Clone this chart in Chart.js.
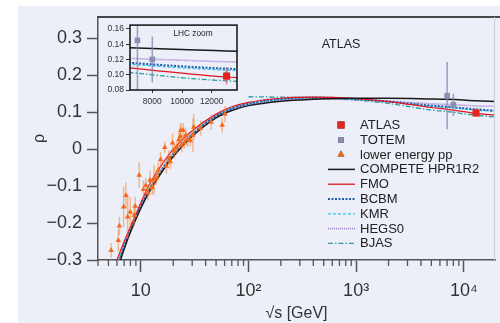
<!DOCTYPE html>
<html>
<head>
<meta charset="utf-8">
<script src="https://cdn.jsdelivr.net/npm/chart.js@4.4.1/dist/chart.umd.min.js"></script>
<style>
  html, body { margin: 0; padding: 0; background: #fff; }
  #wrap { position: relative; width: 500px; height: 323px; }
  #main { position: absolute; left: 0; top: 0; }
  #inset { position: absolute; left: 100px; top: 18px; }
</style>
</head>
<body>
<div id="wrap">
  <canvas id="main" width="500" height="323"></canvas>
  <canvas id="inset" width="145" height="92"></canvas>
</div>
<script>
// rho parameter vs sqrt(s): model curves + measurements

// model curves, sampled on one energy grid (GeV)
const energy = [6, 7, 8, 10, 12, 15, 20, 30, 50, 70, 100, 200, 400, 1000, 2000, 5000, 7000, 10000, 13000, 20000];
const competeRho = [-0.33, -0.27, -0.225, -0.16, -0.115, -0.07, -0.02, 0.035, 0.085, 0.105, 0.118, 0.130, 0.135, 0.138, 0.138, 0.136, 0.135, 0.133, 0.131, 0.129];
const fmoRho     = [-0.30, -0.25, -0.21, -0.145, -0.095, -0.05, 0.0, 0.05, 0.095, 0.115, 0.127, 0.138, 0.141, 0.137, 0.129, 0.113, 0.108, 0.102, 0.097, 0.092];
const bcbmRho    = [-0.32, -0.265, -0.22, -0.155, -0.11, -0.065, -0.015, 0.04, 0.09, 0.11, 0.123, 0.136, 0.140, 0.136, 0.129, 0.118, 0.115, 0.111, 0.108, 0.104];
const kmrRho     = [-0.315, -0.26, -0.218, -0.152, -0.107, -0.062, -0.012, 0.042, 0.09, 0.11, 0.123, 0.135, 0.139, 0.135, 0.128, 0.116, 0.113, 0.109, 0.106, 0.102];
const hegsRho    = [-0.31, -0.258, -0.215, -0.15, -0.105, -0.06, -0.01, 0.043, 0.09, 0.11, 0.122, 0.133, 0.136, 0.134, 0.130, 0.123, 0.121, 0.119, 0.117, 0.116];
const bjasRho    = [null, null, null, null, null, null, null, null, null, null, 0.142, 0.141, 0.139, 0.133, 0.124, 0.106, 0.102, 0.096, 0.092, 0.087];

// measurements
const atlasE = [13000];
const atlasRho = [0.098];
const atlasErr = [0.011];

const totemE = [7000, 8000, 13000];
const totemRho = [0.145, 0.12, 0.10];
const totemErr = [0.091, 0.03, 0.01];

const lowE   = [5.3, 6.18, 6.32, 6.92, 7.28, 7.54, 7.98, 8.67, 8.87, 9.65, 10.57, 11.1, 11.67, 12.17, 12.78, 13.25, 14.0, 14.5, 15.26, 16.7, 17.3, 18.2, 18.8, 19.7, 20.5, 21.6, 22.5, 23.3, 24.0, 25.4, 26.1, 27.2, 28.8, 30.5, 24.7, 31, 36, 45, 57, 60.4, 23.5];
const lowRho = [-0.274, -0.247, -0.208, -0.156, -0.125, -0.183, -0.170, -0.179, -0.154, -0.070, -0.109, -0.098, -0.118, -0.084, -0.104, -0.082, -0.077, -0.057, -0.028, 0.005, -0.046, -0.023, -0.034, 0.017, -0.005, 0.005, 0.026, 0.035, 0.011, 0.017, 0.038, 0.026, 0.023, 0.038, 0.051, 0.06, 0.057, 0.073, 0.065, 0.095, 0.051];
const lowErr = [0.02, 0.03, 0.025, 0.055, 0.035, 0.06, 0.04, 0.03, 0.025, 0.035, 0.025, 0.02, 0.02, 0.025, 0.02, 0.04, 0.02, 0.02, 0.02, 0.015, 0.02, 0.02, 0.02, 0.025, 0.02, 0.015, 0.02, 0.03, 0.02, 0.015, 0.02, 0.02, 0.015, 0.045, 0.02, 0.035, 0.02, 0.02, 0.02, 0.022, 0.02];

// axis ticks
const xMajorTicks = [10, 100, 1000, 10000];
const xMajorLabels = ['10', '10²', '10³', '10⁴'];
const xMinorTicks = [4, 5, 6, 7, 8, 9, 20, 30, 40, 50, 60, 70, 80, 90, 200, 300, 400, 500, 600, 700, 800, 900,
                     2000, 3000, 4000, 5000, 6000, 7000, 8000, 9000];
const yTicks = [-0.3, -0.2, -0.1, 0, 0.1, 0.2, 0.3];
const yTickLabels = ['−0.3', '−0.2', '−0.1', '0', '0.1', '0.2', '0.3'];
const insetXTicks = [8000, 10000, 12000];
const insetYTicks = [0.08, 0.10, 0.12, 0.14, 0.16];

const FONT = '"Liberation Sans", Arial, sans-serif';
Chart.defaults.font.family = FONT;
Chart.defaults.color = '#333';

const toPoints = (xs, ys) => xs.map((x, i) => ({ x: x, y: ys[i] }));

function modelDatasets() {
  const base = { type: 'line', pointRadius: 0, fill: false, cubicInterpolationMode: 'monotone', spanGaps: false };
  return [
    Object.assign({}, base, { label: 'COMPETE HPR1R2', data: toPoints(energy, competeRho), borderColor: '#1a1a1a', borderWidth: 1.5 }),
    Object.assign({}, base, { label: 'FMO', data: toPoints(energy, fmoRho), borderColor: '#e0161d', borderWidth: 1.2 }),
    Object.assign({}, base, { label: 'BCBM', data: toPoints(energy, bcbmRho), borderColor: '#1f5fae', borderWidth: 2, borderDash: [2, 1.5] }),
    Object.assign({}, base, { label: 'KMR', data: toPoints(energy, kmrRho), borderColor: '#2ec4e6', borderWidth: 1.3, borderDash: [3, 2] }),
    Object.assign({}, base, { label: 'HEGS0', data: toPoints(energy, hegsRho), borderColor: '#9b7fc4', borderWidth: 1.6, borderDash: [1, 1] }),
    Object.assign({}, base, { label: 'BJAS', data: toPoints(energy, bjasRho), borderColor: '#2a9d9f', borderWidth: 1.3, borderDash: [5, 2, 1.5, 2] })
  ];
}

function pointDatasets() {
  return [
    { type: 'line', label: 'ATLAS', data: toPoints(atlasE, atlasRho), errors: atlasErr,
      errorColor: 'rgba(235, 90, 90, 0.6)', showLine: false,
      pointStyle: 'rect', pointRadius: 5, backgroundColor: '#e52421', borderColor: '#e52421', borderWidth: 0 },
    { type: 'line', label: 'TOTEM', data: toPoints(totemE, totemRho), errors: totemErr,
      errorColor: 'rgba(125, 130, 165, 0.75)', showLine: false,
      pointStyle: 'rect', pointRadius: 4, backgroundColor: '#8a90b0', borderColor: '#8a90b0', borderWidth: 0 }
  ];
}

// vertical error bars, drawn just before their own dataset
const errorBars = {
  id: 'errorBars',
  beforeDatasetDraw(chart, args) {
    const ds = chart.data.datasets[args.index];
    if (!ds.errors) return;
    const { ctx, chartArea: a, scales } = chart;
    ctx.save();
    ctx.beginPath();
    ctx.rect(a.left, a.top, a.right - a.left, a.bottom - a.top);
    ctx.clip();
    ctx.strokeStyle = ds.errorColor;
    ctx.lineWidth = 1.5;
    ds.data.forEach((p, i) => {
      const x = scales.x.getPixelForValue(p.x);
      ctx.beginPath();
      ctx.moveTo(x, scales.y.getPixelForValue(p.y - ds.errors[i]));
      ctx.lineTo(x, scales.y.getPixelForValue(p.y + ds.errors[i]));
      ctx.stroke();
    });
    ctx.restore();
  }
};

const mainDecor = {
  id: 'mainDecor',
  beforeDraw(chart) {
    const ctx = chart.ctx;
    ctx.save();
    ctx.fillStyle = '#eceef8';
    ctx.fillRect(18, 6, chart.width - 18, chart.height - 6);
    ctx.restore();
  },
  afterDraw(chart) {
    const { ctx, chartArea: a, scales } = chart;
    ctx.save();
    // frame
    ctx.strokeStyle = '#111';
    ctx.lineWidth = 1.5;
    ctx.beginPath(); ctx.moveTo(a.left, a.top); ctx.lineTo(chart.width, a.top); ctx.stroke();
    ctx.strokeStyle = '#c9cbd6';
    ctx.lineWidth = 1;
    ctx.beginPath(); ctx.moveTo(a.right - 0.5, a.top); ctx.lineTo(a.right - 0.5, a.bottom); ctx.stroke();
    // minor x ticks
    ctx.strokeStyle = '#555';
    ctx.lineWidth = 1.3;
    xMinorTicks.forEach(v => {
      const x = scales.x.getPixelForValue(v);
      ctx.beginPath(); ctx.moveTo(x, a.bottom); ctx.lineTo(x, a.bottom + 6); ctx.stroke();
    });
    // experiment label
    ctx.fillStyle = '#222';
    ctx.font = '12.5px ' + FONT;
    ctx.textAlign = 'center';
    ctx.textBaseline = 'middle';
    ctx.fillText('ATLAS', 341, 45);
    // legend
    const lx = 328, top = 125, row = 14.8;
    ctx.font = '13px ' + FONT;
    ctx.textAlign = 'left';
    chart.data.datasets.forEach((ds, i) => {
      const y = top + i * row;
      if (ds.showLine === false) {
        Chart.helpers.drawPoint(ctx, { pointStyle: ds.pointStyle, radius: ds.pointStyle === 'triangle' ? 4 : ds.pointRadius, rotation: 0, borderWidth: 0 }, lx + 13, y);
        ctx.fillStyle = ds.backgroundColor;
        ctx.fill();
      } else {
        ctx.save();
        ctx.strokeStyle = ds.borderColor;
        ctx.lineWidth = Math.max(1.3, ds.borderWidth);
        ctx.setLineDash(ds.borderDash || []);
        ctx.beginPath(); ctx.moveTo(lx, y); ctx.lineTo(lx + 27, y); ctx.stroke();
        ctx.restore();
      }
      ctx.fillStyle = '#222';
      ctx.fillText(ds.label, lx + 32, y + 0.5);
    });
    ctx.restore();
  }
};

const mainDatasets = pointDatasets().concat([
  { type: 'line', label: 'lower energy pp', data: toPoints(lowE, lowRho), errors: lowErr,
    errorColor: 'rgba(243, 128, 45, 0.5)', showLine: false,
    pointStyle: 'triangle', pointRadius: 3.2, backgroundColor: '#f26b1d', borderColor: '#f26b1d', borderWidth: 0 }
]).concat(modelDatasets());

new Chart(document.getElementById('main'), {
  type: 'line',
  data: { datasets: mainDatasets },
  options: {
    responsive: false,
    animation: false,
    events: [],
    layout: { padding: { left: 18, top: 17, right: 1, bottom: 0 } },
    plugins: { legend: { display: false }, tooltip: { enabled: false } },
    scales: {
      x: {
        type: 'logarithmic', min: 4, max: 19500,
        afterBuildTicks: s => { s.ticks = xMajorTicks.map(v => ({ value: v, major: true })); },
        afterFit: s => { s.height = 63; },
        ticks: {
          autoSkip: false, maxRotation: 0, padding: 8,
          font: { size: 18 }, color: '#333',
          callback: v => { const i = xMajorTicks.indexOf(v); return i >= 0 ? xMajorLabels[i] : ''; }
        },
        grid: { drawOnChartArea: false, tickLength: 12, tickColor: '#555', tickWidth: 1.5 },
        border: { color: '#555', width: 1.5 },
        title: { display: true, text: '√s [GeV]', font: { size: 16 }, color: '#333', padding: { top: 2, bottom: 0 } }
      },
      y: {
        min: -0.3, max: 0.358,
        afterBuildTicks: s => { s.ticks = yTicks.map(v => ({ value: v })); },
        afterFit: s => { s.width = 80; },
        ticks: {
          padding: 5, font: { size: 18 }, color: '#333',
          callback: (v, i) => yTickLabels[i]
        },
        grid: { drawOnChartArea: false, tickLength: 11, tickColor: '#555', tickWidth: 1.5 },
        border: { color: '#555', width: 1.5 },
        title: { display: true, text: 'ρ', font: { size: 16 }, color: '#333', padding: { top: 12, bottom: 0 } }
      }
    }
  },
  plugins: [mainDecor, errorBars]
});

// LHC zoom inset
const insetDecor = {
  id: 'insetDecor',
  beforeDraw(chart) {
    const { ctx, chartArea: a } = chart;
    ctx.save();
    ctx.fillStyle = '#eceef8';
    ctx.fillRect(a.left, a.top, a.right - a.left, a.bottom - a.top);
    ctx.restore();
  },
  afterDraw(chart) {
    const { ctx, chartArea: a } = chart;
    ctx.save();
    ctx.strokeStyle = '#111';
    ctx.lineWidth = 1.5;
    ctx.strokeRect(a.left, a.top, a.right - a.left, a.bottom - a.top);
    ctx.fillStyle = '#222';
    ctx.font = '8.3px ' + FONT;
    ctx.textAlign = 'center';
    ctx.textBaseline = 'middle';
    ctx.fillText('LHC zoom', 93, 16);
    ctx.restore();
  }
};

new Chart(document.getElementById('inset'), {
  type: 'line',
  data: { datasets: pointDatasets().concat(modelDatasets()) },
  options: {
    responsive: false,
    animation: false,
    events: [],
    layout: { padding: { left: 0, top: 3, right: 8, bottom: 0 } },
    plugins: { legend: { display: false }, tooltip: { enabled: false } },
    scales: {
      x: {
        type: 'linear', min: 6500, max: 13700,
        afterBuildTicks: s => { s.ticks = insetXTicks.map(v => ({ value: v })); },
        afterFit: s => { s.height = 20; },
        ticks: { autoSkip: false, maxRotation: 0, padding: 4, font: { size: 8.5 }, color: '#333',
                 callback: v => String(v) },
        grid: { drawOnChartArea: false, tickLength: 3, tickColor: '#333', tickWidth: 1 },
        border: { display: false }
      },
      y: {
        min: 0.08, max: 0.165,
        afterBuildTicks: s => { s.ticks = insetYTicks.map(v => ({ value: v })); },
        afterFit: s => { s.width = 30; },
        ticks: { padding: 2, font: { size: 8.5 }, color: '#333', callback: v => v.toFixed(2) },
        grid: { drawOnChartArea: false, tickLength: 4, tickColor: '#333', tickWidth: 1 },
        border: { display: false }
      }
    }
  },
  plugins: [insetDecor, errorBars]
});
</script>
</body>
</html>
